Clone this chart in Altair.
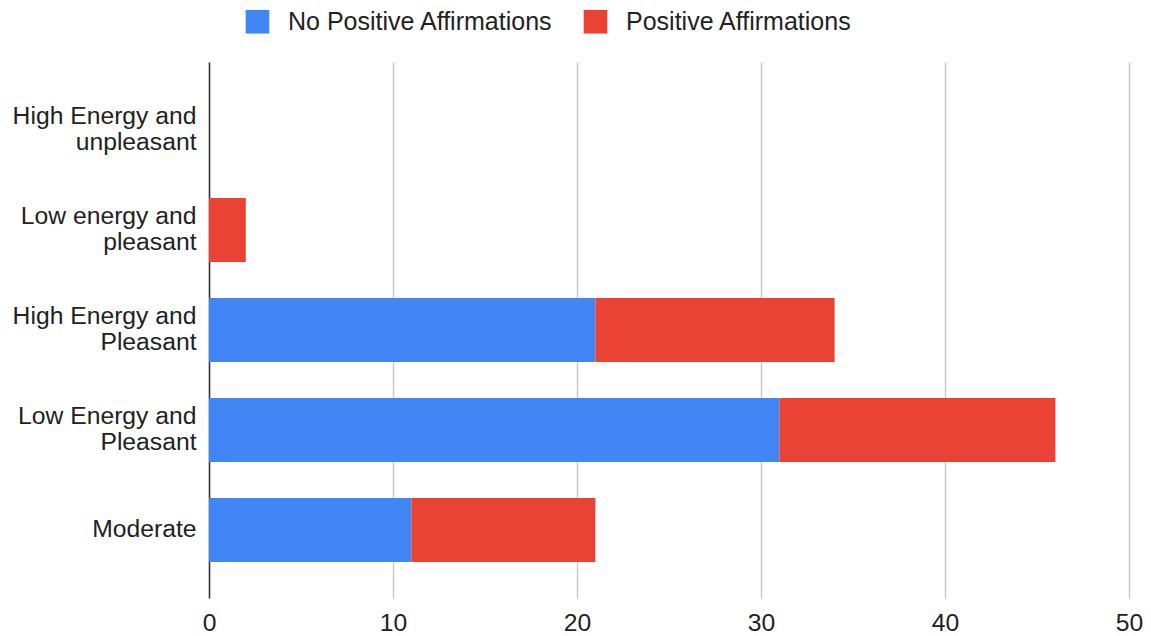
import altair as alt
import pandas as pd

categories = [
    "High Energy and unpleasant",
    "Low energy and pleasant",
    "High Energy and Pleasant",
    "Low Energy and Pleasant",
    "Moderate",
]
series = ["No Positive Affirmations", "Positive Affirmations"]
no_positive = [0, 0, 21, 31, 11]
positive = [0, 2, 13, 15, 10]
colors = ["#4285F4", "#EA4335"]
x_ticks = [0, 10, 20, 30, 40, 50]

rows = []
for c, a, b in zip(categories, no_positive, positive):
    rows.append({"category": c, "series": series[0], "value": a, "ord": 0})
    rows.append({"category": c, "series": series[1], "value": b, "ord": 1})
df = pd.DataFrame(rows)

FONT = "Liberation Sans"

label_expr = (
    "indexof(datum.label, ' and ') >= 0 ? "
    "[slice(datum.label, 0, indexof(datum.label, ' and ') + 4), "
    "slice(datum.label, indexof(datum.label, ' and ') + 5)] : datum.label"
)

chart = (
    alt.Chart(df)
    .mark_bar()
    .encode(
        y=alt.Y(
            "category:N",
            sort=categories,
            scale=alt.Scale(paddingInner=0.36, paddingOuter=0.36),
            axis=alt.Axis(
                title=None,
                ticks=False,
                domain=True,
                domainColor="#333333",
                domainWidth=1.5,
                labelFont=FONT,
                labelFontSize=24.7,
                labelColor="#222222",
                labelPadding=13,
                labelLimit=400,
                labelLineHeight=26,
                labelExpr=label_expr,
                labelOffset={
                    "condition": {"test": "indexof(datum.label, ' and ') >= 0", "value": -13},
                    "value": 0,
                },
            ),
        ),
        x=alt.X(
            "value:Q",
            stack="zero",
            scale=alt.Scale(domain=[0, 50], nice=False),
            axis=alt.Axis(
                title=None,
                values=x_ticks,
                ticks=False,
                domain=False,
                grid=True,
                gridColor="#cccccc",
                gridWidth=1.5,
                labelFlush=False,
                labelFont=FONT,
                labelFontSize=24.7,
                labelColor="#222222",
                labelPadding=12,
            ),
        ),
        color=alt.Color(
            "series:N",
            scale=alt.Scale(domain=series, range=colors),
            legend=alt.Legend(
                title=None,
                orient="none",
                direction="horizontal",
                legendX=36,
                legendY=-53,
                symbolType="square",
                symbolSize=560,
                symbolStrokeWidth=0,
                symbolOpacity=1,
                labelFont=FONT,
                labelFontSize=25,
                labelColor="#222222",
                labelOffset=18,
                columnPadding=30,
                padding=0,
                labelLimit=400,
            ),
        ),
        order=alt.Order("ord:Q", sort="ascending"),
    )
    .properties(
        width=920,
        height=536,
        autosize=alt.AutoSizeParams(type="none"),
        padding={"left": 201, "top": 54, "right": 14, "bottom": 36},
        background="white",
    )
    .configure_view(stroke=None)
)

chart.save("out.html", embed_options={"renderer": "svg", "actions": False})
